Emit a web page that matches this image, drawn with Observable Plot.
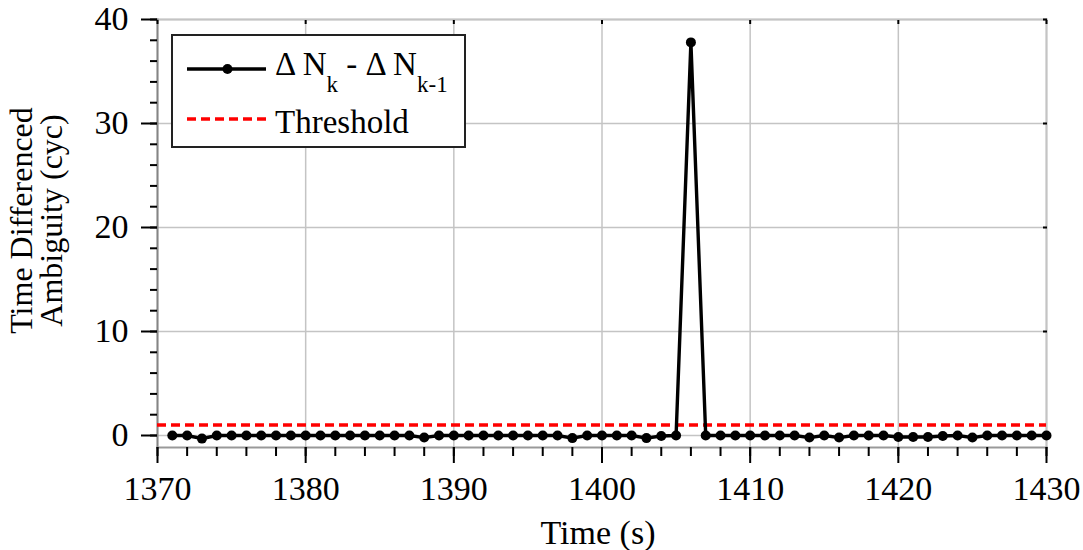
<!DOCTYPE html>
<html><head><meta charset="utf-8">
<script src="https://cdn.jsdelivr.net/npm/d3@7"></script>
<script src="https://cdn.jsdelivr.net/npm/@observablehq/plot@0.6"></script>
<style>
html,body{margin:0;padding:0;background:#fff;}
#chart{position:relative;width:1083px;height:550px;}
</style></head><body><div id="chart"></div>
<script>
const times = [1371,1372,1373,1374,1375,1376,1377,1378,1379,1380,
  1381,1382,1383,1384,1385,1386,1387,1388,1389,1390,
  1391,1392,1393,1394,1395,1396,1397,1398,1399,1400,
  1401,1402,1403,1404,1405,1406,1407,1408,1409,1410,
  1411,1412,1413,1414,1415,1416,1417,1418,1419,1420,
  1421,1422,1423,1424,1425,1426,1427,1428,1429,1430];
const diffs = [0,0,-0.3,0,0,0,0,0,0,0,
  0,0,0,0,0,0,0,-0.2,0,0,
  0,0,0,0,0,0,0,-0.25,0,0,
  0,0,-0.25,-0.05,0,37.8,0,0,0,0,
  0,0,0,-0.2,0,-0.2,0,0,0,-0.15,
  -0.15,-0.15,-0.05,0,-0.2,0,0,0,0,0];
const threshold = [1];
const xMajorTicks = [1370,1380,1390,1400,1410,1420,1430];
const xMinorTicks = [1370,1372,1374,1376,1378,1380,1382,1384,1386,1388,1390,1392,1394,1396,1398,1400,1402,1404,1406,1408,1410,1412,1414,1416,1418,1420,1422,1424,1426,1428,1430];
const yMajorTicks = [0,10,20,30,40];
const yMinorTicks = [0,2,4,6,8,10,12,14,16,18,20,22,24,26,28,30,32,34,36,38,40];
const xLabel = "Time (s)";
const yLabel = "Time Differenced\nAmbiguity (cyc)";
const seriesName = ["\u0394 N", "k", " - \u0394 N", "k-1"];
const thresholdName = "Threshold";

const data = times.map((t, i) => ({t, v: diffs[i]}));
const font = "'Liberation Serif', 'Times New Roman', serif";
const fmt = d => String(d);

const plot = Plot.plot({
  width: 1083, height: 550,
  marginLeft: 157, marginRight: 37, marginTop: 19, marginBottom: 103,
  x: {domain: [1370, 1430]},
  y: {domain: [-1.154, 40]},
  style: {fontFamily: font, fontSize: "34px", color: "#000", background: "#fff"},
  marks: [
    Plot.gridX(xMajorTicks, {stroke: "#c4c4c4", strokeOpacity: 1, strokeWidth: 1.5}),
    Plot.gridY(yMajorTicks, {stroke: "#c4c4c4", strokeOpacity: 1, strokeWidth: 1.5}),
    Plot.frame({anchor: "top", stroke: "#c4c4c4", strokeWidth: 2}),
    Plot.frame({anchor: "right", stroke: "#c4c4c4", strokeWidth: 2}),
    Plot.frame({anchor: "left", stroke: "#858585", strokeWidth: 2}),
    Plot.frame({anchor: "bottom", stroke: "#999", strokeWidth: 2}),
    Plot.axisY(yMajorTicks, {anchor: "left", tickSize: 16, tickPadding: 13, strokeWidth: 2, fontSize: 34, tickFormat: fmt, label: null}),
    Plot.axisY(yMinorTicks, {anchor: "left", tickSize: 7, strokeWidth: 2, tickFormat: () => "", label: null}),
    Plot.axisY(yMajorTicks, {anchor: "right", tickSize: -4, strokeWidth: 2, tickFormat: () => "", label: null}),
    Plot.axisX(xMajorTicks, {anchor: "bottom", tickSize: 16, tickPadding: 12, strokeWidth: 2, fontSize: 34, tickFormat: fmt, label: null}),
    Plot.axisX(xMinorTicks, {anchor: "bottom", tickSize: 9, strokeWidth: 2, tickFormat: () => "", label: null}),
    Plot.axisX(xMajorTicks, {anchor: "top", tickSize: -4, strokeWidth: 2, tickFormat: () => "", label: null}),
    Plot.ruleY(threshold, {stroke: "#ff0000", strokeWidth: 3.5, strokeDasharray: "9,5"}),
    Plot.line(data, {x: "t", y: "v", stroke: "#000", strokeWidth: 3.4}),
    Plot.dot(data, {x: "t", y: "v", r: 5, fill: "#000", stroke: "none"}),
    Plot.text([xLabel], {frameAnchor: "bottom", lineAnchor: "bottom", dy: 96, dx: -4, fontSize: 34, fill: "#000"}),
    Plot.text([yLabel], {frameAnchor: "left", rotate: -90, lineAnchor: "middle", textAnchor: "middle", lineHeight: 0.94, dx: -120, dy: -13, fontSize: 32, fill: "#000"})
  ]
});

document.getElementById("chart").appendChild(plot);

// Legend (inside the plot area, top-left)
const svg = d3.select(plot);
const lg = svg.append("g").attr("font-family", font).attr("fill", "#000").attr("text-anchor", "start");
lg.append("rect").attr("x", 172).attr("y", 35).attr("width", 293).attr("height", 112)
  .attr("fill", "#fff").attr("stroke", "#222").attr("stroke-width", 2);
lg.append("line").attr("x1", 187).attr("x2", 266).attr("y1", 69).attr("y2", 69)
  .attr("stroke", "#000").attr("stroke-width", 3.4);
lg.append("circle").attr("cx", 227.5).attr("cy", 69).attr("r", 5).attr("fill", "#000");
const t1 = lg.append("text").attr("x", 275).attr("y", 75).attr("font-size", 33).style("white-space", "pre");
t1.append("tspan").text(seriesName[0]);
t1.append("tspan").attr("dy", 17).attr("font-size", 23).text(seriesName[1]);
t1.append("tspan").attr("dy", -17).text(seriesName[2]);
t1.append("tspan").attr("dy", 17).attr("font-size", 23).text(seriesName[3]);
lg.append("line").attr("x1", 187).attr("x2", 266).attr("y1", 119).attr("y2", 119)
  .attr("stroke", "#ff0000").attr("stroke-width", 3.5).attr("stroke-dasharray", "9,5");
lg.append("text").attr("x", 275).attr("y", 133).attr("font-size", 33).text(thresholdName);
</script>
</body></html>
